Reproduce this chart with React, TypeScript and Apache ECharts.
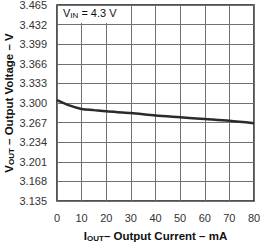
import React, { useEffect, useRef } from "react";
import * as echarts from "echarts";

const currentMA = [0, 5, 10, 15, 20, 30, 40, 50, 60, 70, 80];
const voltageV = [3.305, 3.296, 3.29, 3.288, 3.286, 3.283, 3.279, 3.276, 3.273, 3.27, 3.266];
const yMin = 3.135;
const yMax = 3.465;
const yStep = 0.033;
const xMin = 0;
const xMax = 80;
const xStep = 10;

const FONT = "'Liberation Sans', Arial, sans-serif";

export default function App() {
  const ref = useRef<HTMLDivElement>(null);
  useEffect(() => {
    if (!ref.current) return;
    const chart = echarts.init(ref.current, undefined, { renderer: "svg" });
    chart.setOption({
      animation: false,
      grid: {
        left: 57,
        top: 5,
        right: 6,
        bottom: 41,
        containLabel: false,
        outerBoundsMode: "none",
        show: true,
        borderColor: "#1a1a1a",
        borderWidth: 1.5,
        backgroundColor: "transparent",
      },
      xAxis: {
        type: "value",
        min: xMin,
        max: xMax,
        interval: xStep,
        axisLine: { show: false },
        axisTick: { show: false },
        splitLine: { show: true, lineStyle: { color: "#707070", width: 1 } },
        axisLabel: { color: "#333", fontSize: 11, fontFamily: FONT, margin: 11 },
        name: "{b|I}{s|OUT}{b|– Output Current – mA}",
        nameLocation: "middle",
        nameGap: 28,
        nameTextStyle: {
          rich: {
            b: { fontSize: 11.5, fontWeight: "bold", fontFamily: FONT, color: "#111" },
            s: { fontSize: 8, fontWeight: "bold", fontFamily: FONT, color: "#111", verticalAlign: "bottom", padding: [5, 0, 0, 0] },
          },
        },
      },
      yAxis: {
        type: "value",
        min: yMin,
        max: yMax,
        interval: yStep,
        axisLine: { show: false },
        axisTick: { show: false },
        splitLine: { show: true, lineStyle: { color: "#707070", width: 1 } },
        axisLabel: {
          color: "#333",
          fontSize: 11,
          lineHeight: 10,
          fontFamily: FONT,
          margin: 10,
          formatter: (v: number) => v.toFixed(3),
        },
      },
      graphic: [
        {
          type: "text",
          x: 9,
          y: 103,
          rotation: Math.PI / 2,
          style: {
            text: "{b|V}{s|OUT}{b| – Output Voltage – V}",
            align: "center",
            verticalAlign: "middle",
            rich: {
              b: { fontSize: 11.5, lineHeight: 13, fontWeight: "bold", fontFamily: FONT, fill: "#111" },
              s: { fontSize: 8, lineHeight: 8, fontWeight: "bold", fontFamily: FONT, fill: "#111", verticalAlign: "bottom" },
            },
          },
        },
        {
          type: "rect",
          left: 58,
          top: 6,
          z: 10,
          shape: { width: 70, height: 17 },
          style: { fill: "#fff" },
        },
        {
          type: "text",
          left: 63,
          top: 7,
          z: 11,
          style: {
            text: "{n|V}{s|IN}{n| = 4.3 V}",
            rich: {
              n: { fontSize: 11, fontFamily: FONT, fill: "#111" },
              s: { fontSize: 8, fontFamily: FONT, fill: "#111", verticalAlign: "bottom", padding: [5, 0, 0, 0] },
            },
          },
        },
      ],
      series: [
        {
          type: "line",
          data: currentMA.map((x, i) => [x, voltageV[i]]),
          smooth: 0.3,
          symbol: "none",
          lineStyle: { color: "#2b2b2b", width: 2.5 },
        },
      ],
    });
    return () => chart.dispose();
  }, []);
  return <div ref={ref} style={{ position: "absolute", left: 0, top: 0, width: 260, height: 242 }} />;
}
